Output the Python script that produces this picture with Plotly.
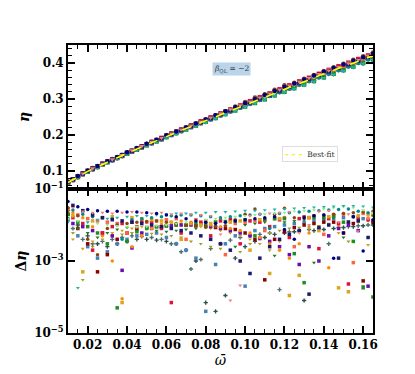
#!/usr/bin/env python3
"""
eta vs omega-bar for beta_QL = -2: fitted curve on top, residuals (log) below.
"""
import plotly.graph_objects as go
from plotly.subplots import make_subplots

# two sampling grids in omega-bar
OMEGA_A = [0.010, 0.015, 0.020, 0.025, 0.030, 0.035, 0.040, 0.045,
           0.050, 0.055, 0.060, 0.065, 0.070, 0.075, 0.080, 0.085,
           0.090, 0.095, 0.100, 0.105, 0.110, 0.115, 0.120, 0.125,
           0.130, 0.135, 0.140, 0.145, 0.150, 0.155, 0.160, 0.165]
OMEGA_B = [0.0125, 0.0175, 0.0225, 0.0275, 0.0325, 0.0375, 0.0425, 0.0475,
           0.0525, 0.0575, 0.0625, 0.0675, 0.0725, 0.0775, 0.0825, 0.0875,
           0.0925, 0.0975, 0.1025, 0.1075, 0.1125, 0.1175, 0.1225, 0.1275,
           0.1325, 0.1375, 0.1425, 0.1475, 0.1525, 0.1575, 0.1625]

ETA_FIT = [0.068, 0.084, 0.099, 0.112, 0.125, 0.137, 0.149, 0.161,
           0.173, 0.184, 0.196, 0.207, 0.218, 0.229, 0.240, 0.251,
           0.262, 0.273, 0.284, 0.295, 0.306, 0.317, 0.328, 0.338,
           0.349, 0.359, 0.370, 0.380, 0.390, 0.400, 0.410, 0.420]

# --- grid A series ---
ETA_NAVY = [0.070, 0.086, 0.101, 0.114, 0.127, 0.139, 0.152, 0.164,
            0.176, 0.187, 0.199, 0.210, 0.221, 0.232, 0.243, 0.255,
            0.266, 0.277, 0.288, 0.299, 0.311, 0.322, 0.333, 0.343,
            0.354, 0.365, 0.376, 0.386, 0.396, 0.406, 0.416, 0.426]
DETA_NAVY = [0.045, 0.032, 0.027, 0.025, 0.024, 0.024, 0.023, 0.023,
             0.022, 0.021, 0.019, 0.017, 0.015, 0.013, 0.012, 0.011,
             0.012, 0.013, 0.014, 0.015, 0.016, 0.017, 0.0075, 0.0040,
             0.016, 0.018, 0.019, 0.0012, 0.0060, 0.017, 0.0019, 0.014]

ETA_TEAL = [0.067, 0.083, 0.098, 0.110, 0.123, 0.135, 0.147, 0.158,
            0.170, 0.181, 0.192, 0.203, 0.214, 0.225, 0.235, 0.246,
            0.256, 0.267, 0.277, 0.288, 0.298, 0.309, 0.319, 0.328,
            0.338, 0.348, 0.358, 0.368, 0.378, 0.388, 0.398, 0.408]
DETA_TEAL = [0.012, 0.00018, 0.012, 0.014, 0.015, 0.016, 0.017, 0.018,
             0.018, 0.019, 0.020, 0.021, 0.021, 0.022, 0.022, 0.023,
             0.023, 0.024, 0.025, 0.025, 0.026, 0.027, 0.028, 0.029,
             0.030, 0.031, 0.032, 0.033, 0.034, 0.034, 0.033, 0.031]

ETA_GREEN = [0.067, 0.083, 0.098, 0.111, 0.124, 0.136, 0.148, 0.159,
             0.171, 0.182, 0.194, 0.205, 0.215, 0.226, 0.237, 0.247,
             0.258, 0.268, 0.279, 0.289, 0.299, 0.310, 0.320, 0.330,
             0.340, 0.350, 0.360, 0.370, 0.380, 0.390, 0.400, 0.410]
DETA_GREEN = [0.020, 0.012, 0.009, 0.0060, 0.0030, 0.00005, 0.0035, 0.0065,
              0.0080, 0.0090, 0.0095, 0.010, 0.010, 0.011, 0.011, 0.012,
              0.0125, 0.013, 0.014, 0.0050, 0.014, 0.015, 0.015, 0.0016,
              0.00025, 0.016, 0.017, 0.018, 0.012, 0.0035, 0.00018, 0.0001]

ETA_SLATE = [0.068, 0.084, 0.100, 0.112, 0.126, 0.137, 0.150, 0.161,
             0.174, 0.184, 0.197, 0.207, 0.219, 0.229, 0.241, 0.251,
             0.263, 0.273, 0.285, 0.295, 0.307, 0.317, 0.329, 0.338,
             0.350, 0.359, 0.371, 0.380, 0.391, 0.400, 0.411, 0.420]
DETA_SLATE = [0.025, 0.010, 0.0050, 0.0030, 0.0025, 0.0030, 0.0035, 0.0040,
              0.0040, 0.0038, 0.0035, 0.0030, 0.0020, 0.0010, 0.00007, 0.00004,
              0.00011, 0.0012, 0.0025, 0.0035, 0.0045, 0.0055, 0.0060, 0.0065,
              0.00008, 0.0070, 0.0075, 0.0080, 0.0085, 0.0090, 0.0095, 0.010]

ETA_STEEL = [0.068, 0.085, 0.100, 0.113, 0.126, 0.138, 0.150, 0.162,
             0.174, 0.185, 0.197, 0.208, 0.219, 0.230, 0.241, 0.252,
             0.264, 0.275, 0.286, 0.297, 0.308, 0.319, 0.331, 0.341,
             0.352, 0.362, 0.373, 0.383, 0.393, 0.404, 0.414, 0.424]
DETA_STEEL = [0.014, 0.0050, 0.0025, 0.0012, 0.0018, 0.0030, 0.0040, 0.0050,
              0.0055, 0.0060, 0.0045, 0.0030, 0.0020, 0.0012, 0.00004, 0.0008,
              0.0030, 0.0050, 0.00020, 0.0070, 0.0080, 0.0090, 0.010, 0.011,
              0.012, 0.013, 0.014, 0.015, 0.016, 0.017, 0.015, 0.013]

ETA_BROWN = [0.069, 0.085, 0.100, 0.113, 0.126, 0.138, 0.150, 0.162,
             0.175, 0.186, 0.198, 0.210, 0.221, 0.232, 0.243, 0.255,
             0.266, 0.279, 0.292, 0.304, 0.313, 0.326, 0.338, 0.345,
             0.356, 0.367, 0.378, 0.388, 0.398, 0.409, 0.419, 0.429]
DETA_BROWN = [0.030, 0.018, 0.0040, 0.0015, 0.0080, 0.010, 0.011, 0.012,
              0.0125, 0.013, 0.012, 0.011, 0.010, 0.0095, 0.0090, 0.0092,
              0.0095, 0.014, 0.020, 0.028, 0.014, 0.020, 0.029, 0.016,
              0.017, 0.018, 0.019, 0.020, 0.021, 0.022, 0.023, 0.024]

ETA_DARKRED = [0.069, 0.085, 0.100, 0.113, 0.126, 0.138, 0.150, 0.162,
               0.174, 0.186, 0.198, 0.209, 0.220, 0.231, 0.242, 0.253,
               0.264, 0.275, 0.286, 0.297, 0.308, 0.320, 0.331, 0.341,
               0.352, 0.363, 0.373, 0.384, 0.394, 0.404, 0.414, 0.424]
DETA_DARKRED = [0.020, 0.0080, 0.0030, 0.00050, 0.0015, 0.0040, 0.0060, 0.0075,
                0.0085, 0.0090, 0.0095, 0.0100, 0.0098, 0.0095, 0.0090, 0.0085,
                0.0080, 0.0075, 0.0060, 0.0040, 0.00030, 0.0040, 0.0065, 0.0085,
                0.010, 0.011, 0.012, 0.012, 0.0060, 0.011, 0.00028, 0.012]

ETA_DGREEN = [0.067, 0.083, 0.098, 0.111, 0.124, 0.136, 0.148, 0.160,
              0.172, 0.183, 0.195, 0.206, 0.216, 0.227, 0.238, 0.248,
              0.259, 0.269, 0.279, 0.290, 0.300, 0.310, 0.320, 0.330,
              0.340, 0.349, 0.359, 0.368, 0.378, 0.388, 0.397, 0.407]
DETA_DGREEN = [0.016, 0.0080, 0.0060, 0.0045, 0.0060, 0.0075, 0.0085, 0.0090,
               0.0080, 0.0070, 0.0065, 0.0070, 0.0075, 0.0080, 0.0085, 0.0090,
               0.0095, 0.0025, 0.010, 0.011, 0.012, 0.0014, 0.012, 0.013,
               0.014, 0.0009, 0.015, 0.016, 0.0045, 0.017, 0.0002, 0.018]

ETA_TOMATO = [0.069, 0.085, 0.100, 0.113, 0.126, 0.138, 0.150, 0.162,
              0.174, 0.185, 0.197, 0.208, 0.219, 0.230, 0.241, 0.252,
              0.263, 0.274, 0.285, 0.296, 0.307, 0.318, 0.329, 0.340,
              0.351, 0.361, 0.372, 0.382, 0.392, 0.402, 0.412, 0.422]
DETA_TOMATO = [0.028, 0.019, 0.015, 0.013, 0.012, 0.011, 0.0060, 0.0090,
               0.012, 0.013, 0.014, 0.015, 0.0040, 0.014, 0.013, 0.012,
               0.0015, 0.011, 0.012, 0.013, 0.0070, 0.015, 0.016, 0.0025,
               0.017, 0.018, 0.0055, 0.019, 0.020, 0.0009, 0.021, 0.019]

ETA_LGREEN = [0.068, 0.084, 0.099, 0.112, 0.125, 0.137, 0.149, 0.161,
              0.173, 0.184, 0.196, 0.207, 0.218, 0.229, 0.240, 0.251,
              0.262, 0.273, 0.284, 0.295, 0.306, 0.317, 0.328, 0.339,
              0.350, 0.361, 0.373, 0.384, 0.395, 0.405, 0.414, 0.423]
DETA_LGREEN = [0.015, 0.013, 0.012, 0.011, 0.010, 0.0095, 0.0090, 0.0088,
               0.0090, 0.0095, 0.010, 0.011, 0.012, 0.013, 0.014, 0.015,
               0.016, 0.017, 0.018, 0.019, 0.020, 0.021, 0.022, 0.024,
               0.025, 0.026, 0.028, 0.030, 0.032, 0.030, 0.026, 0.022]

# --- grid B series ---
ETA_PINK = [0.077, 0.093, 0.107, 0.120, 0.132, 0.144, 0.157, 0.169,
            0.181, 0.192, 0.204, 0.215, 0.226, 0.237, 0.248, 0.260,
            0.271, 0.282, 0.293, 0.304, 0.315, 0.326, 0.337, 0.348,
            0.358, 0.369, 0.379, 0.389, 0.399, 0.409, 0.419]
DETA_PINK = [0.030, 0.024, 0.022, 0.022, 0.021, 0.022, 0.023, 0.022,
             0.021, 0.022, 0.020, 0.021, 0.020, 0.019, 0.018, 0.0055,
             0.00008, 0.00021, 0.018, 0.020, 0.021, 0.022, 0.023, 0.0060,
             0.0100, 0.024, 0.025, 0.012, 0.020, 0.0068, 0.015]

ETA_GOLD = [0.077, 0.091, 0.107, 0.118, 0.132, 0.142, 0.156, 0.166,
            0.180, 0.189, 0.203, 0.212, 0.225, 0.234, 0.247, 0.256,
            0.269, 0.278, 0.291, 0.300, 0.314, 0.322, 0.335, 0.343,
            0.356, 0.364, 0.378, 0.384, 0.398, 0.404, 0.418]
DETA_GOLD = [0.018, 0.0005, 0.013, 0.016, 0.017, 0.00007, 0.016, 0.015,
             0.014, 0.013, 0.012, 0.0040, 0.011, 0.010, 0.011, 0.0030,
             0.012, 0.013, 0.0020, 0.014, 0.00045, 0.015, 0.00011, 0.0004,
             0.016, 0.0070, 0.017, 0.00018, 0.00014, 0.018, 0.020]

ETA_RED = [0.077, 0.093, 0.107, 0.120, 0.132, 0.144, 0.156, 0.168,
           0.181, 0.192, 0.204, 0.215, 0.227, 0.238, 0.249, 0.260,
           0.271, 0.282, 0.294, 0.305, 0.316, 0.327, 0.338, 0.349,
           0.359, 0.370, 0.381, 0.391, 0.401, 0.411, 0.421]
DETA_RED = [0.016, 0.011, 0.0020, 0.0060, 0.0090, 0.011, 0.012, 0.013,
            0.012, 0.0080, 0.00007, 0.0060, 0.011, 0.012, 0.0050, 0.013,
            0.014, 0.0030, 0.013, 0.012, 0.0090, 0.014, 0.0045, 0.015,
            0.016, 0.0022, 0.015, 0.011, 0.00023, 0.016, 0.014]

ETA_PURPLE = [0.075, 0.091, 0.105, 0.118, 0.130, 0.142, 0.154, 0.165,
              0.177, 0.188, 0.200, 0.211, 0.222, 0.233, 0.244, 0.255,
              0.266, 0.277, 0.288, 0.298, 0.309, 0.320, 0.330, 0.341,
              0.351, 0.362, 0.372, 0.382, 0.392, 0.402, 0.412]
DETA_PURPLE = [0.011, 0.0090, 0.0070, 0.0060, 0.0050, 0.00055, 0.0023, 0.0060,
               0.0080, 0.0090, 0.0095, 0.010, 0.010, 0.011, 0.0090, 0.0080,
               0.0070, 0.0060, 0.0050, 0.0042, 0.0035, 0.0025, 0.0015, 0.0008,
               0.0025, 0.0010, 0.0050, 0.0080, 0.010, 0.0070, 0.00020]

ETA_OLIVE = [0.074, 0.090, 0.104, 0.117, 0.129, 0.141, 0.153, 0.164,
             0.176, 0.187, 0.199, 0.210, 0.221, 0.231, 0.242, 0.253,
             0.264, 0.275, 0.285, 0.296, 0.307, 0.318, 0.328, 0.338,
             0.348, 0.359, 0.369, 0.379, 0.389, 0.399, 0.409]
DETA_OLIVE = [0.0060, 0.0003, 0.0025, 0.0040, 0.0050, 0.0055, 0.0060, 0.0060,
              0.0058, 0.0055, 0.0050, 0.0045, 0.0035, 0.0030, 0.0025, 0.0022,
              0.0020, 0.0018, 0.0030, 0.0045, 0.0060, 0.0070, 0.0080, 0.0085,
              0.0090, 0.0095, 0.010, 0.011, 0.0035, 0.012, 0.013]

ETA_ORANGE = [0.076, 0.092, 0.106, 0.119, 0.131, 0.143, 0.155, 0.168,
              0.180, 0.191, 0.203, 0.214, 0.226, 0.237, 0.248, 0.259,
              0.270, 0.281, 0.292, 0.303, 0.314, 0.324, 0.334, 0.345,
              0.355, 0.366, 0.376, 0.387, 0.397, 0.408, 0.418]
DETA_ORANGE = [0.022, 0.016, 0.0090, 0.0050, 0.0010, 0.00009, 0.0025, 0.0050,
               0.0080, 0.010, 0.012, 0.013, 0.012, 0.011, 0.010, 0.0090,
               0.0080, 0.0070, 0.0060, 0.0045, 0.0030, 0.0020, 0.0012, 0.0030,
               0.0060, 0.0080, 0.00065, 0.010, 0.012, 0.014, 0.016]

ETA_CYAN = [0.075, 0.091, 0.105, 0.118, 0.130, 0.142, 0.154, 0.166,
            0.178, 0.189, 0.201, 0.211, 0.222, 0.233, 0.244, 0.255,
            0.266, 0.276, 0.287, 0.298, 0.309, 0.319, 0.329, 0.340,
            0.350, 0.360, 0.370, 0.380, 0.390, 0.400, 0.410]
DETA_CYAN = [0.026, 0.020, 0.017, 0.016, 0.015, 0.0040, 0.014, 0.015,
             0.016, 0.017, 0.018, 0.019, 0.019, 0.018, 0.017, 0.016,
             0.017, 0.018, 0.019, 0.020, 0.0080, 0.021, 0.022, 0.023,
             0.024, 0.025, 0.026, 0.027, 0.028, 0.024, 0.022]

ETA_DGOLD = [0.075, 0.092, 0.106, 0.119, 0.131, 0.143, 0.155, 0.167,
             0.179, 0.190, 0.202, 0.213, 0.224, 0.235, 0.246, 0.257,
             0.268, 0.279, 0.290, 0.301, 0.312, 0.323, 0.333, 0.344,
             0.354, 0.365, 0.375, 0.385, 0.395, 0.405, 0.415]
DETA_DGOLD = [0.0040, 0.0022, 0.0035, 0.0050, 0.0060, 0.0070, 0.0080, 0.0090,
              0.010, 0.011, 0.012, 0.011, 0.010, 0.0090, 0.0080, 0.0070,
              0.0060, 0.0050, 0.0040, 0.0030, 0.0020, 0.0035, 0.0050, 0.0065,
              0.0080, 0.0095, 0.011, 0.0060, 0.013, 0.014, 0.0028]

ETA_CADET = [0.076, 0.092, 0.107, 0.119, 0.132, 0.143, 0.156, 0.167,
             0.180, 0.190, 0.203, 0.213, 0.225, 0.235, 0.247, 0.257,
             0.269, 0.279, 0.291, 0.301, 0.313, 0.323, 0.334, 0.344,
             0.355, 0.365, 0.376, 0.385, 0.396, 0.405, 0.416]
DETA_CADET = [0.0080, 0.0040, 0.0030, 0.0035, 0.0040, 0.0045, 0.0050, 0.0048,
              0.0045, 0.0040, 0.0030, 0.0018, 0.0006, 0.0011, 0.0022, 0.0030,
              0.0038, 0.0045, 0.0050, 0.0055, 0.0060, 0.00016, 0.0065, 0.0070,
              0.0075, 0.0080, 0.0030, 0.0085, 0.0090, 0.0095, 0.010]

ETA_MIDNIGHT = [0.077, 0.093, 0.107, 0.120, 0.132, 0.144, 0.156, 0.168,
                0.180, 0.191, 0.203, 0.214, 0.225, 0.236, 0.247, 0.258,
                0.269, 0.280, 0.291, 0.302, 0.313, 0.324, 0.335, 0.346,
                0.356, 0.367, 0.377, 0.387, 0.397, 0.407, 0.417]
DETA_MIDNIGHT = [0.035, 0.025, 0.019, 0.016, 0.014, 0.013, 0.012, 0.011,
                 0.010, 0.0090, 0.0080, 0.0070, 0.0060, 0.0050, 0.0040, 0.0030,
                 0.0020, 0.0010, 0.00045, 0.0012, 0.0025, 0.0040, 0.0055, 0.0070,
                 0.00012, 0.0085, 0.010, 0.0012, 0.012, 0.013, 0.0045]

# (grid, eta, delta eta, colour, symbol) -- drawn in this order
SERIES = [
    (OMEGA_A, ETA_SLATE, DETA_SLATE, "#2f4f4f", "cross"),
    (OMEGA_B, ETA_CADET, DETA_CADET, "#4f6f6f", "cross"),
    (OMEGA_A, ETA_STEEL, DETA_STEEL, "#4682b4", "square"),
    (OMEGA_B, ETA_OLIVE, DETA_OLIVE, "#a0a020", "triangle-down"),
    (OMEGA_B, ETA_DGOLD, DETA_DGOLD, "#d4a017", "triangle-down"),
    (OMEGA_B, ETA_PURPLE, DETA_PURPLE, "#6a0dad", "square"),
    (OMEGA_A, ETA_DARKRED, DETA_DARKRED, "#8b0000", "square"),
    (OMEGA_B, ETA_ORANGE, DETA_ORANGE, "#ff8c00", "circle"),
    (OMEGA_B, ETA_RED, DETA_RED, "#dc143c", "square"),
    (OMEGA_A, ETA_TOMATO, DETA_TOMATO, "#ff6347", "square"),
    (OMEGA_A, ETA_DGREEN, DETA_DGREEN, "#1e7b1e", "triangle-down"),
    (OMEGA_A, ETA_GREEN, DETA_GREEN, "#228b22", "square"),
    (OMEGA_B, ETA_GOLD, DETA_GOLD, "#daa520", "square"),
    (OMEGA_B, ETA_CYAN, DETA_CYAN, "#008b8b", "circle"),
    (OMEGA_B, ETA_MIDNIGHT, DETA_MIDNIGHT, "#191970", "square"),
    (OMEGA_A, ETA_BROWN, DETA_BROWN, "#8b4513", "circle"),
    (OMEGA_A, ETA_LGREEN, DETA_LGREEN, "#90ee90", "triangle-down"),
    (OMEGA_A, ETA_TEAL, DETA_TEAL, "#20b2aa", "triangle-down"),
    (OMEGA_B, ETA_PINK, DETA_PINK, "#f08080", "triangle-down"),
    (OMEGA_A, ETA_NAVY, DETA_NAVY, "#000080", "circle"),
]

FONT = "DejaVu Serif"

fig = make_subplots(rows=2, cols=1, shared_xaxes=True, vertical_spacing=0)

for omega, eta, deta, color, symbol in SERIES:
    fig.add_trace(go.Scatter(x=omega, y=eta, mode="markers", showlegend=False,
                             marker=dict(color=color, symbol=symbol, size=4.5, line_width=0)),
                  row=1, col=1)
    fig.add_trace(go.Scatter(x=omega, y=deta, mode="markers", showlegend=False,
                             marker=dict(color=color, symbol=symbol, size=3.5, line_width=0)),
                  row=2, col=1)

fig.add_trace(go.Scatter(x=OMEGA_A, y=ETA_FIT, mode="lines", name="Best-fit", showlegend=False,
                         line=dict(color="#ffff00", width=1.6, dash="dash")),
              row=1, col=1)

axis_common = dict(showline=True, linecolor="black", linewidth=1.8, mirror="allticks",
                   ticks="inside", ticklen=7, tickwidth=1.5, tickcolor="black",
                   showgrid=False, zeroline=False,
                   tickfont=dict(family=FONT, size=12, color="black", weight="bold"))

fig.update_xaxes(range=[0.01, 0.165], dtick=0.02, tick0=0.0,
                 minor=dict(ticks="inside", dtick=0.005, ticklen=4, tickcolor="black", tickwidth=1),
                 **axis_common)
fig.update_xaxes(tickformat=".2f", row=2, col=1,
                 title=dict(text="<i>ω̄</i>", font=dict(family=FONT, size=14), standoff=0))
fig.update_yaxes(range=[0.05, 0.45], dtick=0.1, tick0=0.0, tickformat=".1f",
                 minor=dict(ticks="inside", dtick=0.02, ticklen=4, tickcolor="black", tickwidth=1),
                 title=dict(text="<b><i>η</i></b>", font=dict(family=FONT, size=14), standoff=10),
                 row=1, col=1, **axis_common)
fig.update_yaxes(type="log", range=[-5, -1],
                 tickvals=[1e-1, 1e-3, 1e-5],
                 ticktext=["10<sup>−1</sup>", "10<sup>−3</sup>", "10<sup>−5</sup>"],
                 title=dict(text="<b>Δ<i>η</i></b>", font=dict(family=FONT, size=14), standoff=4),
                 row=2, col=1, **axis_common)

# beta label box
fig.add_annotation(x=0.535, y=0.885, xref="x domain", yref="y domain",
                   text="<i>β</i><sub>QL</sub> = −2", showarrow=False,
                   font=dict(family=FONT, size=7.5, color="#333333"),
                   bgcolor="rgba(140,185,220,0.6)", borderpad=1)

# small legend box for the best-fit curve
fig.add_annotation(x=0.70, y=0.245, xref="x domain", yref="y domain",
                   xanchor="left", yanchor="middle", showarrow=False,
                   text="<span style='color:#ffee00;font-size:9px'><b>- - -</b></span>  Best-fit",
                   font=dict(family=FONT, size=7.5, color="#333333"),
                   bgcolor="white", bordercolor="#dddddd", borderwidth=1, borderpad=2)

# page body keeps a default 8px margin, so the figure is trimmed by that amount
fig.update_layout(
    width=407, height=366,
    margin=dict(l=44, r=42, t=37, b=41),
    paper_bgcolor="white", plot_bgcolor="white",
    font=dict(family=FONT, color="black"),
    showlegend=False,
)

fig.write_html("out.html")
